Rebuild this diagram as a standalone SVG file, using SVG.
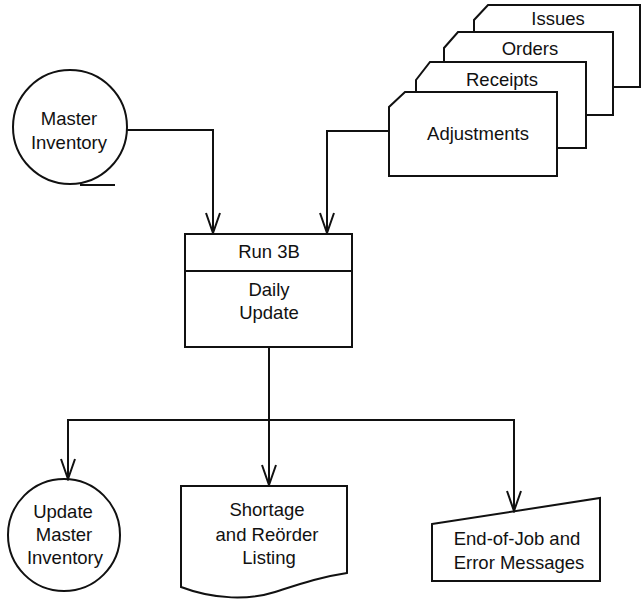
<svg xmlns="http://www.w3.org/2000/svg" width="642" height="599" viewBox="0 0 642 599">
<style>
.s{fill:#fff;stroke:#111;stroke-width:2}
.c{fill:none;stroke:#111;stroke-width:2}
text{font-family:"Liberation Sans",Arial,sans-serif;font-size:18.5px;fill:#111;text-anchor:middle}
</style>
<defs>
<marker id="v" markerUnits="userSpaceOnUse" viewBox="-22 -10 24 20" refX="0" refY="0" markerWidth="24" markerHeight="20" orient="auto">
<path d="M-20,-7 L0,0 L-20,7" fill="none" stroke="#111" stroke-width="2"/>
</marker>
</defs>
<rect width="642" height="599" fill="#fff"/>
<g id="master-inventory">
<circle class="s" cx="70" cy="127" r="57"/>
<line class="c" x1="80" y1="185" x2="115" y2="185"/>
<text x="69" y="125">Master</text>
<text x="69" y="149">Inventory</text>
</g>
<g id="issues">
<path class="s" d="M474,87 V20 L488,5 H640 V87 Z"/>
<text x="558" y="25">Issues</text>
</g>
<g id="orders">
<path class="s" d="M444,115 V48 L458,32 H613 V115 Z"/>
<text x="530" y="55">Orders</text>
</g>
<g id="receipts">
<path class="s" d="M416,148 V80 L430,62 H586 V148 Z"/>
<text x="502" y="86">Receipts</text>
</g>
<g id="adjustments">
<path class="s" d="M389,176 V107 L405,92 H557 V176 Z"/>
<text x="478" y="140">Adjustments</text>
</g>
<g id="run3b">
<rect class="s" x="185" y="234" width="167" height="113"/>
<line class="c" x1="185" y1="271" x2="352" y2="271"/>
<text x="269" y="258">Run 3B</text>
<text x="269" y="296">Daily</text>
<text x="269" y="319">Update</text>
</g>
<g id="update-master-inventory">
<circle class="s" cx="64" cy="535" r="56"/>
<text x="63" y="518">Update</text>
<text x="64" y="541">Master</text>
<text x="65" y="564">Inventory</text>
</g>
<g id="shortage-listing">
<path class="s" d="M181,486 H347 V573 C320,577 300,584 275,592 C250,600 215,600 181,587 Z"/>
<text x="267" y="516">Shortage</text>
<text x="267" y="541">and Reörder</text>
<text x="269" y="564">Listing</text>
</g>
<g id="end-of-job">
<path class="s" d="M432,524 L600,498 V581 H432 Z"/>
<text x="517" y="545">End-of-Job and</text>
<text x="519" y="569">Error Messages</text>
</g>
<g id="connectors">
<path class="c" d="M127,130 H213 V233" marker-end="url(#v)"/>
<path class="c" d="M389,131 H327 V233" marker-end="url(#v)"/>
<path class="c" d="M269,347 V485" marker-end="url(#v)"/>
<path class="c" d="M269,420 H68 V479" marker-end="url(#v)"/>
<path class="c" d="M269,420 H514 V511" marker-end="url(#v)"/>
</g>
</svg>
